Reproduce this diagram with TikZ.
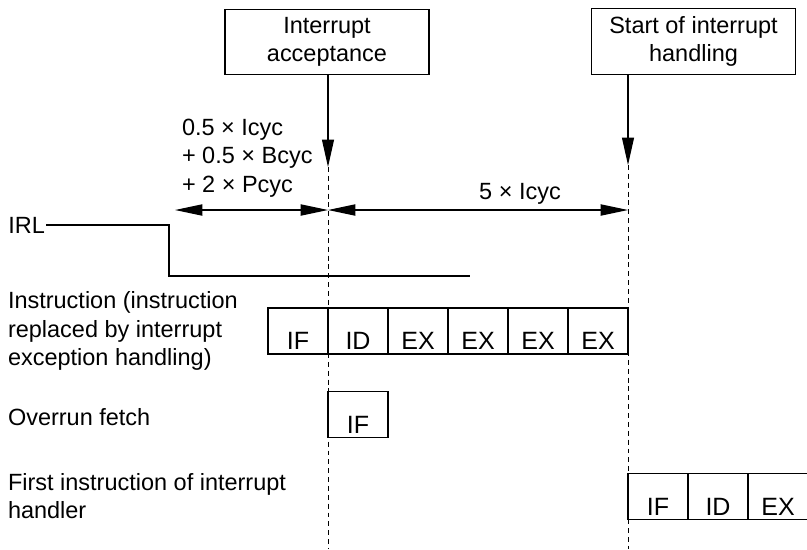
\documentclass[tikz,border=0pt]{standalone}
\usepackage{fontspec}
\setmainfont{Liberation Sans}
\usetikzlibrary{arrows.meta, positioning}

\begin{document}
\begin{tikzpicture}[
    x=0.025cm, y=-0.025cm,
    font=\fontsize{16.7pt}{20.2pt}\selectfont,
    every node/.style={inner sep=0pt, outer sep=0pt},
    event/.style={rectangle, draw, line width=0.85pt, align=center, minimum width=5.1cm, minimum height=1.64cm},
    stage/.style={rectangle, draw, line width=0.85pt, minimum width=1.5cm, text height=29.5pt, text depth=3.2pt, font=\fontsize{17.8pt}{21pt}\selectfont},
    caption/.style={anchor=west, align=left},
    pointer/.style={-{Triangle[length=19.5pt, width=8.5pt]}, line width=0.85pt},
    span/.style={{Triangle[length=19.5pt, width=8pt]}-{Triangle[length=19.5pt, width=8pt]}, line width=0.85pt},
    marker/.style={dash pattern=on 3.5pt off 2.8pt, line width=0.7pt},
    signal/.style={line width=0.85pt}
]
    \useasboundingbox (0,0) rectangle (807,549);
    \clip (0,0) rectangle (807,549);

    \node [event] (accept) at (327,42) {Interrupt\\acceptance};
    \node [event] (handle) at (693.5,41.5) {Start of interrupt\\handling};

    % time instants
    \coordinate (t1) at (328,167);
    \coordinate (t2) at (628,165);
    \coordinate (floor) at (0,549);

    \draw [marker] (t1) -- (t1 |- floor);
    \draw [marker] (t2) -- (t2 |- floor);
    \draw [pointer] (accept.south -| t1) -- (t1);
    \draw [pointer] (handle.south -| t2) -- (t2);

    % latencies
    \coordinate (spanL) at (175,210);
    \node [caption] (delay) at (182,158) {0.5 × Icyc\\+ 0.5 × Bcyc\\+ 2 × Pcyc};
    \draw [span] (spanL) -- (spanL -| t1);
    \draw [span] (spanL -| t1) -- node[pos=0.64, above=4pt] {5 × Icyc} (spanL -| t2);

    % IRL signal
    \node [caption, inner xsep=1pt] (irl) at (7,225) {IRL};
    \coordinate (irlfall) at (169,276);
    \coordinate (irlend) at (470,276);
    \draw [signal] (irl.east) -| (irlfall) -- (irlend);

    % pipelines
    \node [caption] (instr) at (8,331) {Instruction (instruction\\replaced by interrupt\\exception handling)};
    \node [stage] (i1) at (298,331) {IF};
    \node [stage, right=0pt of i1] (i2) {ID};
    \node [stage, right=0pt of i2] (i3) {EX};
    \node [stage, right=0pt of i3] (i4) {EX};
    \node [stage, right=0pt of i4] (i5) {EX};
    \node [stage, right=0pt of i5] (i6) {EX};

    \node [caption] (over) at (8,417) {Overrun fetch};
    \node [stage] (o1) at (358,414.5) {IF};

    \node [caption] (first) at (8,496) {First instruction of interrupt\\handler};
    \node [stage] (h1) at (658,496.5) {IF};
    \node [stage, right=0pt of h1] (h2) {ID};
    \node [stage, right=0pt of h2] (h3) {EX};

\end{tikzpicture}
\end{document}
